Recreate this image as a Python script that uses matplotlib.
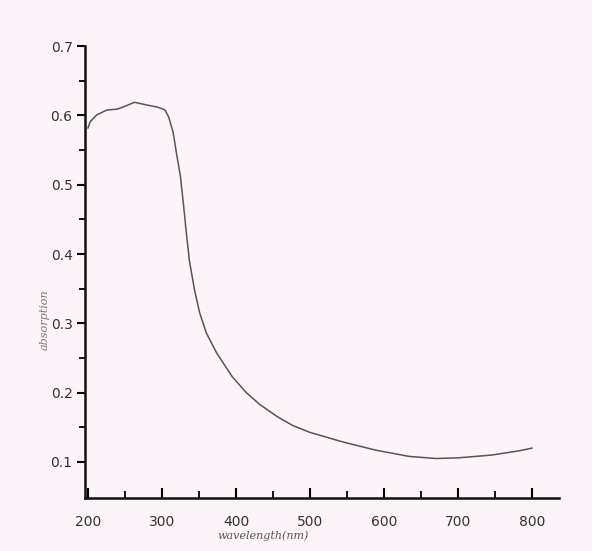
import matplotlib.pyplot as plt
from matplotlib.ticker import MultipleLocator

# absorption spectrum
wavelength = [200, 203, 212, 226, 239, 247, 263, 280, 294, 304, 309, 315, 320, 325,
              329, 333, 337, 344, 351, 360, 374, 395, 414, 432, 455, 476, 499, 544,
              589, 634, 670, 701, 746, 782, 800]
absorbance = [0.582, 0.591, 0.601, 0.608, 0.609, 0.612, 0.619, 0.615, 0.612, 0.608,
              0.598, 0.576, 0.543, 0.512, 0.472, 0.43, 0.391, 0.348, 0.315, 0.286,
              0.257, 0.223, 0.2, 0.183, 0.166, 0.153, 0.143, 0.129, 0.117, 0.108,
              0.105, 0.106, 0.110, 0.116, 0.120]

x_ticks = [200, 300, 400, 500, 600, 700, 800]
y_ticks = [0.1, 0.2, 0.3, 0.4, 0.5, 0.6, 0.7]

bg = '#fcf4f9'
fig = plt.figure(figsize=(5.92, 5.51), dpi=100, facecolor=bg)
ax = fig.add_axes([0.1436, 0.0962, 0.80, 0.82], facecolor=bg)

ax.plot(wavelength, absorbance, color='#555555', lw=1.1)

ax.set_xlim(196, 836)
ax.set_ylim(0.048, 0.7)
ax.set_xticks(x_ticks)
ax.set_yticks(y_ticks)
ax.xaxis.set_minor_locator(MultipleLocator(50))
ax.set_yticks([0.15, 0.25, 0.35, 0.45, 0.55, 0.65], minor=True)

for s in ['top', 'right']:
    ax.spines[s].set_visible(False)
for s in ['left', 'bottom']:
    ax.spines[s].set_linewidth(1.8)
    ax.spines[s].set_color('#111111')

ax.tick_params(axis='x', which='major', direction='in', length=7, width=1.5,
               pad=12, labelsize=10, labelcolor='#333333')
ax.tick_params(axis='x', which='minor', direction='in', length=5, width=1.3)
ax.tick_params(axis='y', which='major', direction='out', length=6, width=1.5,
               pad=3, labelsize=10, labelcolor='#333333')
ax.tick_params(axis='y', which='minor', direction='out', length=4, width=1.3)
ax.set_yticklabels([f'{v:.1f}' for v in y_ticks])

fig.text(0.076, 0.42, 'absorption', rotation=90, fontsize=8, style='italic',
         family='DejaVu Serif', color='#777777', ha='center', va='center')
fig.text(0.445, 0.028, 'wavelength(nm)', fontsize=8, style='italic',
         family='DejaVu Serif', color='#555555', ha='center', va='center')

fig.savefig('out.png', dpi=100, facecolor=bg)
